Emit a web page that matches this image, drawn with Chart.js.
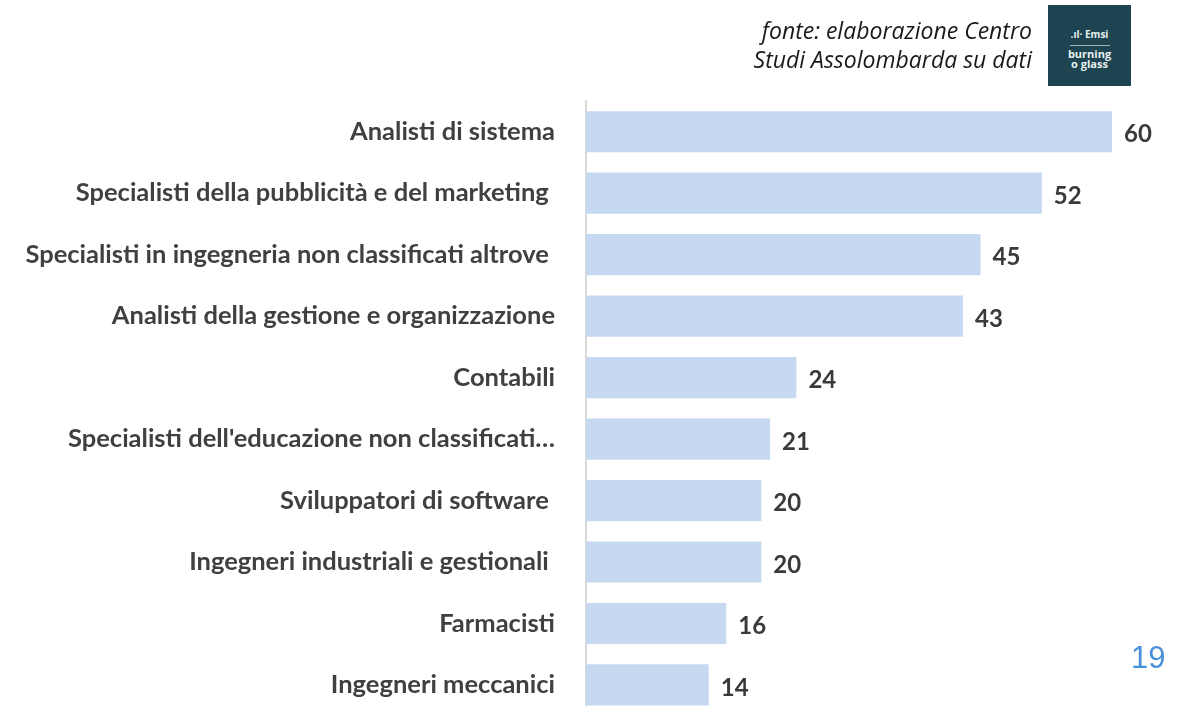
<!DOCTYPE html>
<html>
<head>
<meta charset="utf-8">
<script src="https://cdn.jsdelivr.net/npm/chart.js@4"></script>
<style>
  html, body { margin: 0; padding: 0; background: #fff; }
  body { width: 1178px; height: 706px; overflow: hidden; position: relative; font-family: Lato, "Open Sans", sans-serif; }
  #wrap { position: absolute; left: 0; top: 0; width: 1178px; height: 762px; }
  #chart { width: 1178px; height: 762px; display: block; }
  .fonte { position: absolute; right: 146px; top: 16px; text-align: right; font-style: italic; font-size: 23px; line-height: 29px; color: #1a1a1a; font-family: "Open Sans", sans-serif; }
  .logo { position: absolute; left: 1048px; top: 5px; width: 83px; height: 81px; background: #1f4451; color: #e8f0f0; font-family: "Open Sans", sans-serif; text-align: center; }
  .logo .emsi { font-size: 10px; font-weight: 700; margin-top: 22px; }
  .logo .sep { width: 40px; height: 1px; background: #9fb3b8; margin: 4px auto 3px; }
  .logo .bg { font-size: 11px; font-weight: 700; line-height: 10px; }
  .page { position: absolute; left: 1131px; top: 640px; font-family: "Liberation Sans", Arial, sans-serif; font-size: 31px; color: #4a90d9; }
</style>
</head>
<body>
<div id="wrap"><canvas id="chart" width="1178" height="762"></canvas></div>
<div class="fonte">fonte: elaborazione Centro<br>Studi Assolombarda su dati</div>
<div class="logo"><div class="emsi">.ıl· Emsi</div><div class="sep"></div><div class="bg">burning<br>o glass</div></div>
<div class="page">19</div>
<script>
/* Professioni più richieste — barre orizzontali */
var categories = [
    'Analisti di sistema',
    'Specialisti della pubblicità e del marketing ',
    'Specialisti in ingegneria non classificati altrove ',
    'Analisti della gestione e organizzazione',
    'Contabili',
    "Specialisti dell'educazione non classificati…",
    'Sviluppatori di software ',
    'Ingegneri industriali e gestionali ',
    'Farmacisti',
    'Ingegneri meccanici'
];
var values = [60, 52, 45, 43, 24, 21, 20, 20, 16, 14];

var valueLabels = {
    id: 'valueLabels',
    afterDatasetsDraw: function(chart) {
        var ctx = chart.ctx;
        ctx.save();
        ctx.font = 'bold 24px Lato, "Open Sans", sans-serif';
        ctx.fillStyle = '#3a3a3a';
        ctx.textAlign = 'left';
        ctx.textBaseline = 'middle';
        chart.getDatasetMeta(0).data.forEach(function(bar, i) {
            ctx.fillText(values[i], bar.x + 12, bar.y + 3);
        });
        ctx.restore();
    }
};

new Chart(document.getElementById('chart').getContext('2d'), {
    type: 'bar',
    data: {
        labels: categories,
        datasets: [{
            data: values,
            backgroundColor: '#c6d9f1',
            borderWidth: 0,
            barPercentage: 0.67,
            categoryPercentage: 1
        }]
    },
    options: {
        indexAxis: 'y',
        responsive: false,
        maintainAspectRatio: false,
        animation: false,
        layout: { padding: { top: 101, right: 66, bottom: 0, left: 0 } },
        plugins: { legend: { display: false }, tooltip: { enabled: false } },
        scales: {
            x: { display: false, min: 0, max: 60 },
            y: {
                grid: { display: false, drawTicks: false },
                border: { display: true, color: '#d9d9d9', width: 2 },
                ticks: {
                    padding: 31,
                    color: '#404040',
                    autoSkip: false,
                    font: { family: 'Lato, "Open Sans", sans-serif', size: 25.5, weight: 'bold' }
                },
                afterFit: function(scale) { scale.width = 586; }
            }
        }
    },
    plugins: [valueLabels]
});
</script>
</body>
</html>
